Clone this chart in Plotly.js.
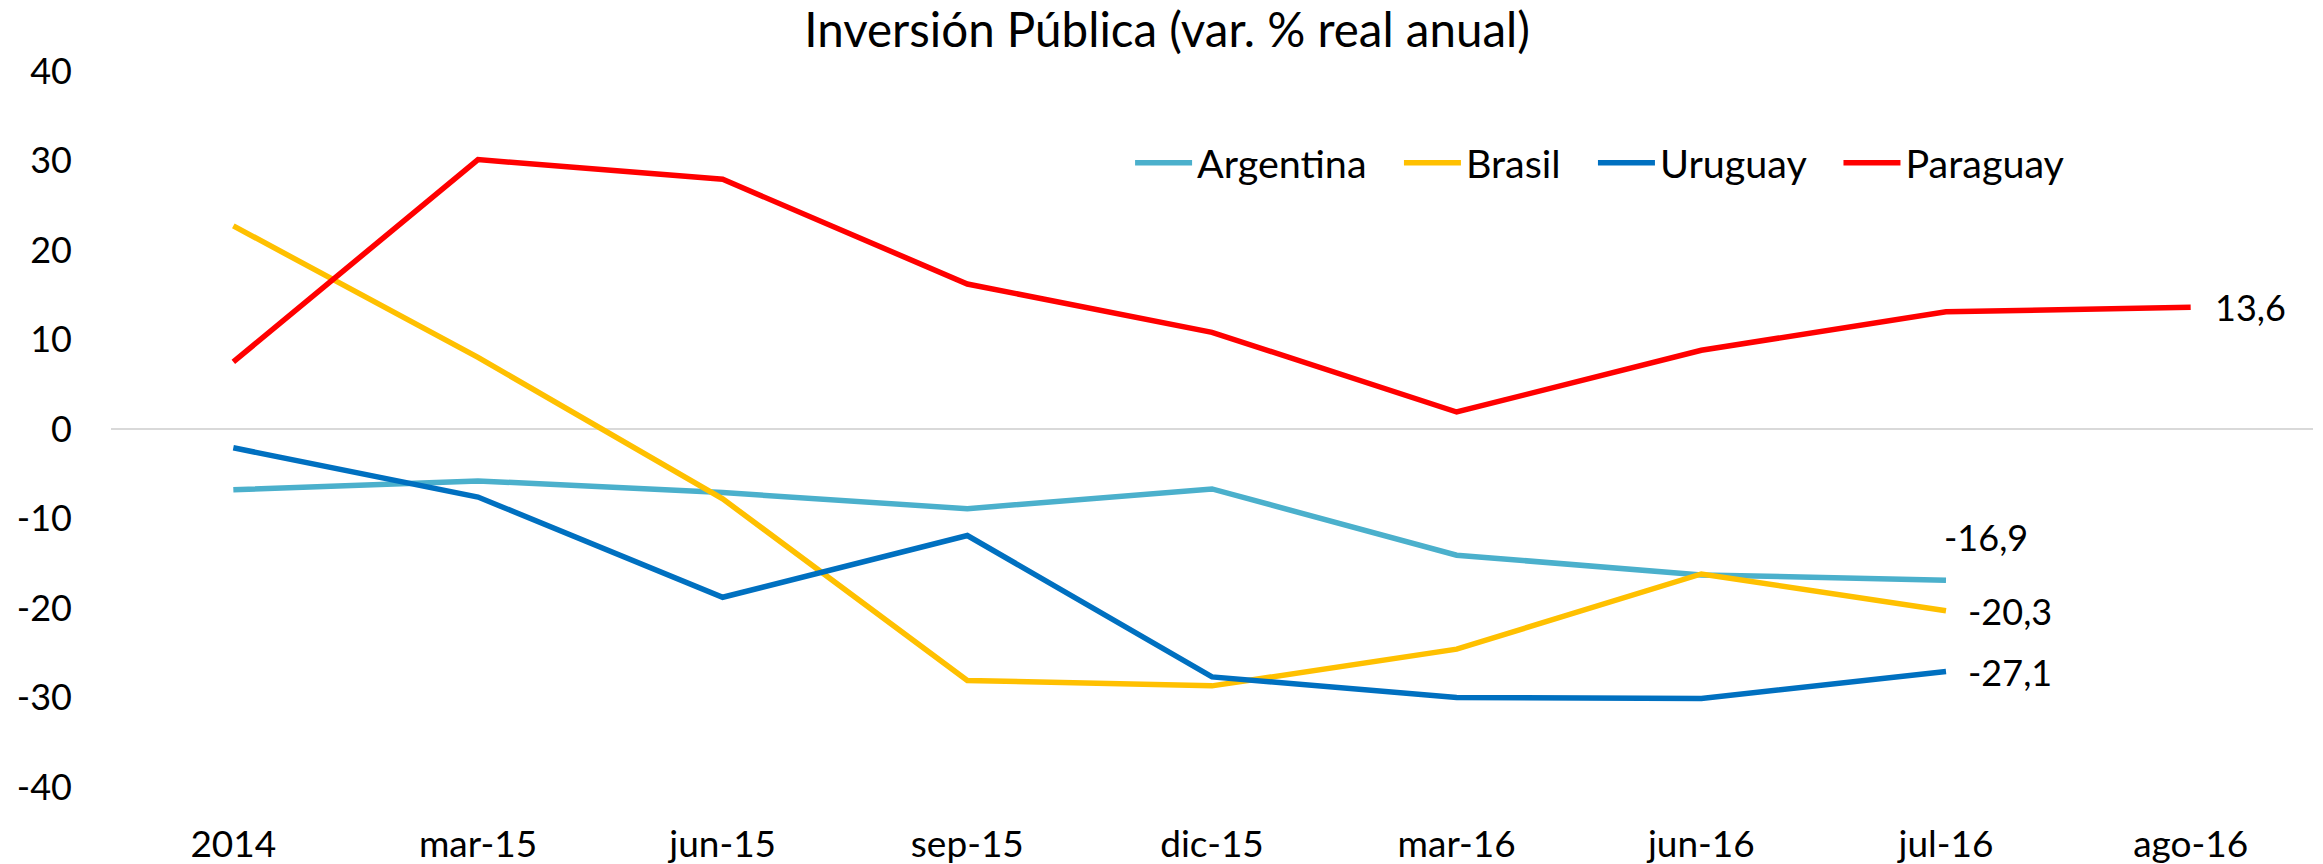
<!DOCTYPE html>
<html>
<head>
<meta charset="utf-8">
<script src="https://cdn.plot.ly/plotly-3.0.1.min.js"></script>
<style>
html,body{margin:0;padding:0;background:#fff;}
#chart{width:2323px;height:864px;}
</style>
</head>
<body>
<div id="chart"></div>
<script>
const categories = ["2014","mar-15","jun-15","sep-15","dic-15","mar-16","jun-16","jul-16","ago-16"];
const argentina = [-6.8, -5.8, -7.1, -8.9, -6.7, -14.1, -16.3, -16.9];
const brasil    = [22.7, 8.0, -7.8, -28.1, -28.7, -24.6, -16.2, -20.3];
const uruguay   = [-2.1, -7.6, -18.8, -11.9, -27.7, -30.0, -30.1, -27.1];
const paraguay  = [7.5, 30.1, 27.9, 16.2, 10.8, 1.9, 8.8, 13.1, 13.6];
const yTicks = [-40, -30, -20, -10, 0, 10, 20, 30, 40];

const FONT = "Lato, 'Open Sans', sans-serif";
const FS = 36;
const LEG_FS = 39.5;
const TITLE_FS = 47.5;

function mk(name, vals, color, legendId) {
  return {
    type: 'scatter', mode: 'lines', name: name,
    x: categories.slice(0, vals.length), y: vals,
    line: {color: color, width: 5.5},
    legend: legendId,
    hoverinfo: 'skip'
  };
}
const traces = [
  mk('Argentina', argentina, '#4BB0CC', 'legend'),
  mk('Brasil', brasil, '#FFC000', 'legend2'),
  mk('Uruguay', uruguay, '#0070C0', 'legend3'),
  mk('Paraguay', paraguay, '#FF0000', 'legend4')
];

function fmt(v){ return v.toFixed(1).replace('.', ','); }
function last(a){ return a[a.length-1]; }

const annotations = [
  {x: categories[paraguay.length-1], y: last(paraguay), text: fmt(last(paraguay)), xanchor:'left', yanchor:'middle', xshift: 22},
  {x: categories[argentina.length-1], y: last(argentina), text: fmt(last(argentina)), xanchor:'left', yanchor:'middle', xshift: -4, yshift: 43},
  {x: categories[brasil.length-1], y: last(brasil), text: fmt(last(brasil)), xanchor:'left', yanchor:'middle', xshift: 20},
  {x: categories[uruguay.length-1], y: last(uruguay), text: fmt(last(uruguay)), xanchor:'left', yanchor:'middle', xshift: 20}
].map(a => Object.assign({showarrow:false, font:{family:FONT, size:FS, color:'#000'}}, a));

const legY = (787-163)/716;
function leg(x) {
  return {
    orientation: 'h', x: x, xanchor: 'left', y: legY, yanchor: 'middle',
    font: {family: FONT, size: LEG_FS, color: '#000'},
    bgcolor: 'rgba(0,0,0,0)', itemwidth: 57, borderwidth: 0
  };
}

const layout = {
  width: 2323, height: 864,
  margin: {l: 111, r: 10, t: 71, b: 77, pad: 0},
  paper_bgcolor: '#fff', plot_bgcolor: '#fff',
  font: {family: FONT, size: FS, color: '#000'},
  title: {
    text: 'Inversión Pública (var. % real anual)',
    font: {family: FONT, size: TITLE_FS, color: '#000'},
    x: 0.5024, xref: 'container', xanchor: 'center',
    y: 1 - 30/864, yref: 'container', yanchor: 'middle'
  },
  showlegend: true,
  legend: leg(0.4628),
  legend2: leg(0.5849),
  legend3: leg(0.6730),
  legend4: leg(0.7845),
  xaxis: {
    type: 'category', categoryorder: 'array', categoryarray: categories,
    range: [-0.5, categories.length - 0.5],
    showgrid: false, zeroline: false, showline: false, ticks: '',
    ticklabelstandoff: 32,
    tickfont: {family: FONT, size: FS + 1, color: '#000'},
    fixedrange: true
  },
  yaxis: {
    range: [-40, 40], tickvals: yTicks, ticktext: yTicks.map(String),
    showgrid: false, zeroline: true, zerolinecolor: '#D9D9D9', zerolinewidth: 2,
    showline: false, ticks: '', ticklabelstandoff: 38,
    tickfont: {family: FONT, size: FS, color: '#000'},
    fixedrange: true
  },
  annotations: annotations
};

Plotly.newPlot('chart', traces, layout, {displayModeBar: false, staticPlot: true});
</script>
</body>
</html>
